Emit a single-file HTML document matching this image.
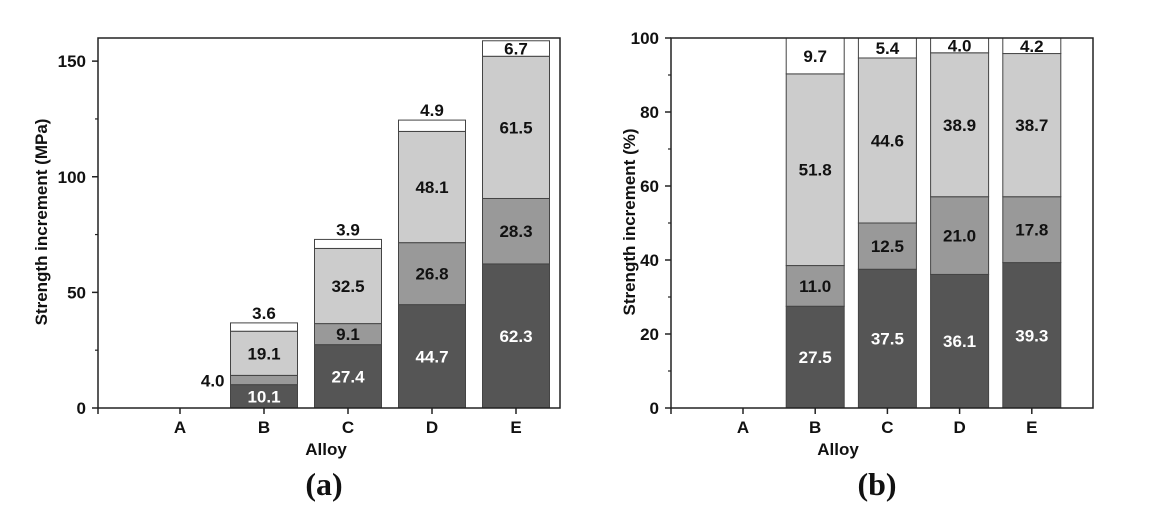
<!DOCTYPE html>
<html><head><meta charset="utf-8"><style>
html,body{margin:0;padding:0;background:#fff;}
svg{display:block;}
text{font-family:"Liberation Sans",Arial,sans-serif;font-weight:bold;}
</style></head><body>
<svg id="svg" width="1172" height="524" viewBox="0 0 1172 524" xmlns="http://www.w3.org/2000/svg"></svg>
<script>
const categories = ["A","B","C","D","E"];
// chart (a) MPa: series values per category
const aStrength1 = [0, 10.1, 27.4, 44.7, 62.3];
const aStrength2 = [0, 4.0, 9.1, 26.8, 28.3];
const aStrength3 = [0, 19.1, 32.5, 48.1, 61.5];
const aStrength4 = [0, 3.6, 3.9, 4.9, 6.7];
const aTicks = [0, 50, 100, 150];
// chart (b) percent
const bStrength1 = [0, 27.5, 37.5, 36.1, 39.3];
const bStrength2 = [0, 11.0, 12.5, 21.0, 17.8];
const bStrength3 = [0, 51.8, 44.6, 38.9, 38.7];
const bStrength4 = [0, 9.7, 5.4, 4.0, 4.2];
const bTicks = [0, 20, 40, 60, 80, 100];

const NS = "http://www.w3.org/2000/svg";
const svg = document.getElementById('svg');
function mk(tag, attrs, parent, txt){
  const e = document.createElementNS(NS, tag);
  for (const k in attrs) e.setAttribute(k, attrs[k]);
  if (txt !== undefined) e.textContent = txt;
  (parent||svg).appendChild(e);
  return e;
}
const fills = ["#555555","#999999","#cccccc","#ffffff"];
const textCols = ["#ffffff","#111111","#111111","#111111"];
const FS = 17;

function chart(cfg){
  const g = mk('g', {});
  
  
  const y = v => cfg.y0 - v * (cfg.y0 - cfg.yTop) / cfg.yMax;
  const x = i => cfg.c0 + cfg.step * i;
  const series = cfg.series;
  categories.forEach((c, i) => {
    let base = 0;
    series.forEach((s, k) => {
      const v = s[i];
      if (v <= 0) return;
      const r = mk('rect', {x: x(i) - cfg.bw/2, y: y(base + v), width: cfg.bw, height: y(base) - y(base + v), fill: fills[k], stroke: '#444', 'stroke-width': 1}, g);
      
      
      let tx = x(i), ty = (y(base) + y(base + v)) / 2 + 6, anchor = 'middle';
      if (cfg.labelMode === 'a') {
        if (k === 3 && v < 6) ty = y(base + v) - 4;
        if (k === 1 && v < 6) { tx = x(i) - cfg.bw/2 - 6; anchor = 'end'; ty = y(base + v) + 11; }
      }
      const t = mk('text', {x: tx, y: ty, 'text-anchor': anchor, 'font-size': FS, fill: textCols[k]}, g, v.toFixed(1));
      
      
      base += v;
    });
  });
  const f = mk('rect', {x: cfg.left, y: cfg.yTop, width: cfg.right - cfg.left, height: cfg.y0 - cfg.yTop, fill: 'none', stroke: '#222', 'stroke-width': 1.5}, g);
  
  
  for (let j = 0; j < cfg.ticks.length; j++) {
    const v = cfg.ticks[j];
    mk('line', {x1: cfg.left - 6, x2: cfg.left, y1: y(v), y2: y(v), stroke: '#222', 'stroke-width': 1.5}, g);
    const t = mk('text', {x: cfg.left - 12, y: y(v) + 6, 'text-anchor': 'end', 'font-size': FS, fill: '#111'}, g, v);
    
    
    if (j < cfg.ticks.length - 1) {
      const m = (v + cfg.ticks[j+1]) / 2;
      mk('line', {x1: cfg.left - 3, x2: cfg.left, y1: y(m), y2: y(m), stroke: '#222', 'stroke-width': 1.2}, g);
    }
  }
  mk('line', {x1: cfg.left, x2: cfg.left, y1: cfg.y0, y2: cfg.y0 + 6, stroke: '#222', 'stroke-width': 1.5}, g);
  categories.forEach((c, i) => {
    mk('line', {x1: x(i), x2: x(i), y1: cfg.y0, y2: cfg.y0 + 6, stroke: '#222', 'stroke-width': 1.5}, g);
    const t = mk('text', {x: x(i), y: cfg.y0 + 25, 'text-anchor': 'middle', 'font-size': FS, fill: '#111'}, g, c);
    
    
  });
  const xt = mk('text', {x: cfg.xTitleX, y: 455, 'text-anchor': 'middle', 'font-size': FS, fill: '#111'}, g, 'Alloy');
  
  
  const yt = mk('text', {x: 0, y: 0, 'text-anchor': 'middle', 'font-size': FS, fill: '#111', transform: 'translate(' + cfg.yTitleX + ',222) rotate(-90)'}, g, cfg.yTitle);
  
  
  const p = mk('text', {x: cfg.panelX, y: 495, 'text-anchor': 'middle', 'font-size': 32, fill: '#111', style: 'font-family:"Liberation Serif",serif;font-weight:bold'}, g, cfg.panel);
  
  
}

chart({name: 'chart-a-mpa', left: 98, right: 560, yTop: 38, y0: 408, yMax: 160, c0: 180, step: 84, bw: 67,
  series: [aStrength1, aStrength2, aStrength3, aStrength4], ticks: aTicks, labelMode: 'a',
  xTitleX: 326, yTitleX: 47, yTitle: 'Strength increment (MPa)', panel: '(a)', panelX: 324});
chart({name: 'chart-b-percent', left: 671, right: 1093, yTop: 38, y0: 408, yMax: 100, c0: 743, step: 72.2, bw: 58,
  series: [bStrength1, bStrength2, bStrength3, bStrength4], ticks: bTicks, labelMode: 'b',
  xTitleX: 838, yTitleX: 635, yTitle: 'Strength increment (%)', panel: '(b)', panelX: 877});
</script>
</body></html>
